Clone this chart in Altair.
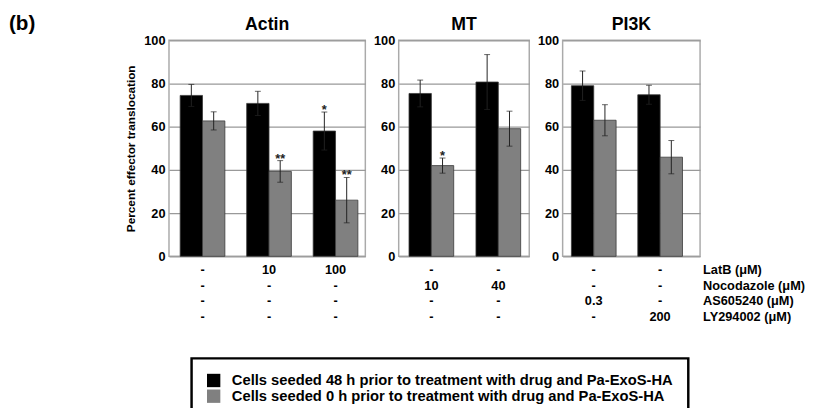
import altair as alt
import pandas as pd

# ---------------- data ----------------
panels = ["Actin", "Actin", "Actin", "MT", "MT", "PI3K", "PI3K"]
groups = ["A1", "A2", "A3", "M1", "M2", "P1", "P2"]
series = [
    "Cells seeded 48 h prior to treatment with drug and Pa-ExoS-HA",
    "Cells seeded 0 h prior to treatment with drug and Pa-ExoS-HA",
]
mean_48h = [74.5, 70.8, 58.0, 75.4, 80.7, 79.0, 74.8]
err_48h = [5.1, 5.6, 8.8, 6.2, 12.7, 6.8, 4.4]
mean_0h = [62.7, 39.3, 26.0, 42.0, 59.1, 63.0, 45.9]
err_0h = [4.2, 5.0, 10.5, 3.5, 8.1, 7.2, 7.7]
sig_48h = ["", "", "*", "", "", "", ""]
sig_0h = ["", "**", "**", "*", "", "", ""]

row_labels = ["LatB (μM)", "Nocodazole (μM)", "AS605240 (μM)", "LY294002 (μM)"]
latb = ["-", "10", "100", "-", "-", "-", "-"]
nocodazole = ["-", "-", "-", "10", "40", "-", "-"]
as605240 = ["-", "-", "-", "-", "-", "0.3", "-"]
ly294002 = ["-", "-", "-", "-", "-", "-", "200"]
y_ticks = [0, 20, 40, 60, 80, 100]

# ---------------- tables ----------------
rows = []
for i in range(len(groups)):
    for s, m, e, sg in ((series[0], mean_48h, err_48h, sig_48h), (series[1], mean_0h, err_0h, sig_0h)):
        rows.append({"panel": panels[i], "group": groups[i], "series": s,
                     "mean": m[i], "lo": m[i] - e[i], "hi": m[i] + e[i], "sig": sg[i]})
bars_df = pd.DataFrame(rows)
table_df = pd.DataFrame({"panel": panels, "group": groups,
                         "r0": latb, "r1": nocodazole, "r2": as605240, "r3": ly294002})

FONT = "Liberation Sans"
H = 220
ROW0, ROWSTEP = 14, 16
legend = alt.Legend(orient="none", legendX=23, legendY=324, title=None,
                    symbolType="square", symbolSize=185, symbolStrokeWidth=0,
                    labelFontSize=15, labelFontWeight="bold", labelFont=FONT,
                    labelLimit=700, labelOffset=11, rowPadding=0,
                    strokeColor="black", fillColor="white",
                    padding=15, cornerRadius=0)


def label_layer(text, **kw):
    size = kw.pop("size", 13)
    return alt.Chart(pd.DataFrame({"label": [text]})).mark_text(
        fontSize=size, fontWeight="bold", font=FONT, color="black", **kw)


def panel(name, width, p_inner, p_outer, align, first=False, last=False):
    order = [g for g, p in zip(groups, panels) if p == name]
    d = bars_df[bars_df.panel == name]
    t = table_df[table_df.panel == name]
    xscale = alt.Scale(domain=order, paddingInner=p_inner, paddingOuter=p_outer, align=align)
    x = alt.X("group:N", scale=xscale, axis=None)
    xo = alt.XOffset("series:N", scale=alt.Scale(domain=series))
    yaxis = alt.Axis(values=y_ticks, title="Percent effector translocation" if first else None,
                     grid=True, gridColor="#999", gridWidth=1.3, ticks=False, domain=False,
                     labelFontSize=13, labelFontWeight="bold", labelFont=FONT, labelPadding=4,
                     titleFontSize=12, titleFontWeight="bold", titleFont=FONT, titlePadding=6,
                     labelColor="black", titleColor="black")
    y = alt.Y("mean:Q", scale=alt.Scale(domain=[0, 100], nice=False), axis=yaxis)
    base = alt.Chart(d)
    bars = base.mark_bar(stroke="#3a3a3a", strokeWidth=0.8).encode(
        x=x, xOffset=xo, y=y,
        color=alt.Color("series:N", scale=alt.Scale(domain=series, range=["#000000", "#808080"]),
                        legend=legend))
    rule = base.mark_rule(color="#222", strokeWidth=1).encode(x=x, xOffset=xo, y="lo:Q", y2="hi:Q")
    cap_hi = base.mark_tick(color="#222", thickness=1, size=6).encode(x=x, xOffset=xo, y="hi:Q")
    cap_lo = base.mark_tick(color="#222", thickness=1, size=6).encode(x=x, xOffset=xo, y="lo:Q")
    stars = base.mark_text(baseline="alphabetic", dy=2, fontSize=13, fontWeight="bold",
                           font=FONT, color="#222").encode(x=x, xOffset=xo, y="hi:Q", text="sig:N")
    layers = [bars, rule, cap_hi, cap_lo, stars]
    # panel title
    layers.append(label_layer(name, size=18, baseline="alphabetic").encode(
        x=alt.value(width / 2), y=alt.value(-11), text="label:N"))
    tb = alt.Chart(t)
    for r in range(4):
        layers.append(tb.mark_text(fontSize=13, fontWeight="bold", font=FONT, color="black").encode(
            x=x, y=alt.value(H + ROW0 + ROWSTEP * r), text=f"r{r}:N"))
    if last:
        for r in range(4):
            layers.append(label_layer(row_labels[r], align="left").encode(
                x=alt.value(width + 3), y=alt.value(H + ROW0 + ROWSTEP * r), text="label:N"))
    if first:
        layers.append(label_layer("(b)", size=21, align="left", baseline="alphabetic").encode(
            x=alt.value(-163), y=alt.value(-11), text="label:N"))
    return alt.layer(*layers).properties(width=width, height=H)


chart = alt.hconcat(
    panel("Actin", 200, 0.328, 0.14, 0.6, first=True),
    panel("MT", 133, 0.33, 0.14, 0.55),
    panel("PI3K", 140, 0.33, 0.2, 0.33, last=True),
    spacing=6,
).properties(
    padding={"left": 0, "top": 0, "right": 5, "bottom": 5}
).configure(font=FONT).configure_view(
    stroke="#aaa", strokeWidth=1.5
).configure_legend(
    strokeWidth=2.5
)

chart.save("out.html", embed_options={"renderer": "svg", "actions": False})
